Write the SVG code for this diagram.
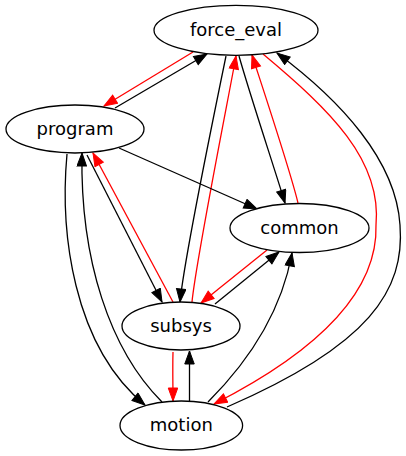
<svg xmlns="http://www.w3.org/2000/svg" width="406" height="456" viewBox="0 0 406 456">
<style>
.n ellipse{fill:#fff;stroke:#000;stroke-width:1.3}
.n text{font-family:"DejaVu Sans",Verdana,sans-serif;font-size:18px;text-anchor:middle;fill:#000}
.e path{fill:none;stroke-width:1.3}
.b{stroke:#000;marker-end:url(#ab)}
.r{stroke:#f00;marker-end:url(#ar)}
</style>
<defs>
<marker id="ab" markerUnits="userSpaceOnUse" markerWidth="15" markerHeight="11" refX="13" refY="4.75" orient="auto" viewBox="-1 -0.5 15 11">
<path d="M0,0 L13,4.75 L0,9.5 z" fill="#000" stroke="#000" stroke-width="1"/>
</marker>
<marker id="ar" markerUnits="userSpaceOnUse" markerWidth="15" markerHeight="11" refX="13" refY="4.75" orient="auto" viewBox="-1 -0.5 15 11">
<path d="M0,0 L13,4.75 L0,9.5 z" fill="#f00" stroke="#f00" stroke-width="1"/>
</marker>
</defs>
<rect width="406" height="456" fill="#fff"/>
<g id="edges" class="e">
<path class="r" d="M193,52 L104,106"/>
<path class="b" d="M115,108 L207,54"/>
<path class="b" d="M226,56 C219,90 184,260 180,302"/>
<path class="r" d="M192,302 C196,260 230,90 236,56"/>
<path class="b" d="M239,56 C250,95 275,170 285,203"/>
<path class="r" d="M298,203 C290,170 265,95 252,55"/>
<path class="r" d="M263,54 C330,110 382,160 376,225 C378,290 320,350 214,404"/>
<path class="b" d="M227,407 C370,345 405,290 400,225 C396,160 340,100 277,53"/>
<path class="b" d="M119,148 L257,209"/>
<path class="b" d="M87,155 L162,302"/>
<path class="r" d="M173,302 L93,153"/>
<path class="b" d="M67,154 C60,230 72,345 145,405"/>
<path class="b" d="M162,402 C110,350 80,260 82,153"/>
<path class="r" d="M267,250 L201,303"/>
<path class="b" d="M215,304 L279,252"/>
<path class="r" d="M173,352 C172.5,370 173,385 173,401"/>
<path class="b" d="M189.5,401 L189.5,351"/>
<path class="b" d="M208,402 C240,370 280,320 292,253"/>
</g>
<g id="force_eval" class="n"><ellipse cx="236" cy="30.3" rx="82" ry="25"/><text x="236" y="35.5">force_eval</text></g>
<g id="program" class="n"><ellipse cx="75" cy="129" rx="69" ry="24"/><text x="75" y="134.5">program</text></g>
<g id="common" class="n"><ellipse cx="299.5" cy="228" rx="69.5" ry="24.5"/><text x="299.5" y="233.5">common</text></g>
<g id="subsys" class="n"><ellipse cx="181" cy="326" rx="59" ry="24"/><text x="181" y="331.5">subsys</text></g>
<g id="motion" class="n"><ellipse cx="181.3" cy="425.5" rx="61.3" ry="24.5"/><text x="181.3" y="431">motion</text></g>
</svg>
